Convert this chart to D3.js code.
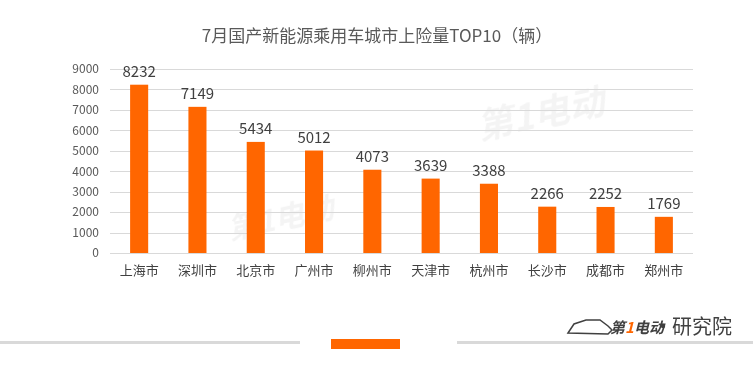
<!DOCTYPE html>
<html><head><meta charset="utf-8">
<script src="https://cdn.jsdelivr.net/npm/d3@7/dist/d3.min.js"></script>
<style>body{margin:0;background:#fff}svg{display:block}</style>
</head><body>
<script>
const categories = ["上海市","深圳市","北京市","广州市","柳州市","天津市","杭州市","长沙市","成都市","郑州市"];
const values = [8232,7149,5434,5012,4073,3639,3388,2266,2252,1769];
const yTicks = [0,1000,2000,3000,4000,5000,6000,7000,8000,9000];
const title = "7月国产新能源乘用车城市上险量TOP10（辆）";

const W = 753, H = 371;
const font = "'Microsoft YaHei','Noto Sans CJK SC',sans-serif";
const svg = d3.select("body").append("svg").attr("width", W).attr("height", H);
svg.append("rect").attr("width", W).attr("height", H).attr("fill", "#fff");

const x = d3.scaleBand().domain(categories).range([110, 693]).paddingInner(0.69).paddingOuter(0.345);
const y = d3.scaleLinear().domain([0, 9000]).range([253, 69]);

// watermark
const wm = svg.append("g").attr("fill", "#000").attr("opacity", 0.045).attr("font-family", font).attr("font-weight", "bold").attr("font-style", "italic");
[[230, 240, 30], [480, 140, 36]].forEach(([wx, wy, fs]) => {
  wm.append("text").attr("x", wx).attr("y", wy).attr("font-size", fs).attr("transform", `rotate(-12,${wx},${wy})`).text("第1电动");
});

// grid
svg.append("g").selectAll("line").data(yTicks).join("line")
  .attr("x1", 110).attr("x2", 693).attr("y1", d => Math.round(y(d)) + 0.5).attr("y2", d => Math.round(y(d)) + 0.5)
  .attr("stroke", "#d9d9d9").attr("stroke-width", 1);

// y axis labels
const yAxis = d3.axisLeft(y).tickValues(yTicks).tickFormat(d3.format("d")).tickSize(0).tickPadding(0);
const ya = svg.append("g").attr("transform", "translate(99,0)").call(yAxis);
ya.select(".domain").remove();
ya.selectAll("text").attr("font-family", font).attr("font-size", 12).attr("fill", "#595959");

// bars
svg.append("g").selectAll("rect").data(values).join("rect")
  .attr("x", (d, i) => x(categories[i]))
  .attr("width", x.bandwidth())
  .attr("y", d => y(d))
  .attr("height", d => y(0) - y(d))
  .attr("fill", "#ff6600");

// value labels
svg.append("g").selectAll("text").data(values).join("text")
  .attr("x", (d, i) => x(categories[i]) + x.bandwidth() / 2)
  .attr("y", d => y(d) - 8)
  .attr("text-anchor", "middle")
  .attr("font-family", font).attr("font-size", 15).attr("fill", "#404040")
  .text(d => d);

// x axis labels
const xAxis = d3.axisBottom(x).tickSize(0).tickPadding(0);
const xa = svg.append("g").attr("transform", "translate(0,266)").call(xAxis);
xa.select(".domain").remove();
xa.selectAll("text").attr("font-family", font).attr("font-size", 13).attr("fill", "#404040");

// title
svg.append("text").attr("x", 377).attr("y", 42).attr("text-anchor", "middle")
  .attr("font-family", font).attr("font-size", 17).attr("fill", "#595959").text(title);

// bottom decoration
svg.append("rect").attr("x", 0).attr("y", 341).attr("width", 300).attr("height", 3).attr("fill", "#d9d9d9");
svg.append("rect").attr("x", 331).attr("y", 339).attr("width", 69).attr("height", 10).attr("fill", "#ff6600");
svg.append("rect").attr("x", 457).attr("y", 341).attr("width", 296).attr("height", 3).attr("fill", "#d9d9d9");

// logo
const lg = svg.append("g");
lg.append("path").attr("d", "M568,333 L574,324 L586,320 L600,320 L608,326 L612,330 L608,334 Z")
  .attr("fill", "none").attr("stroke", "#404040").attr("stroke-width", 1.5);
lg.append("text").attr("x", 610).attr("y", 333).attr("font-family", font).attr("font-size", 15).attr("font-weight", "bold").attr("font-style", "italic").attr("fill", "#404040")
  .html('第<tspan fill="#ff6600">1</tspan>电动');
lg.append("circle").attr("cx", 663).attr("cy", 326).attr("r", 2.2).attr("fill", "#404040");
lg.append("text").attr("x", 672).attr("y", 334).attr("font-family", font).attr("font-size", 20).attr("fill", "#404040").text("研究院");
</script>
</body></html>
